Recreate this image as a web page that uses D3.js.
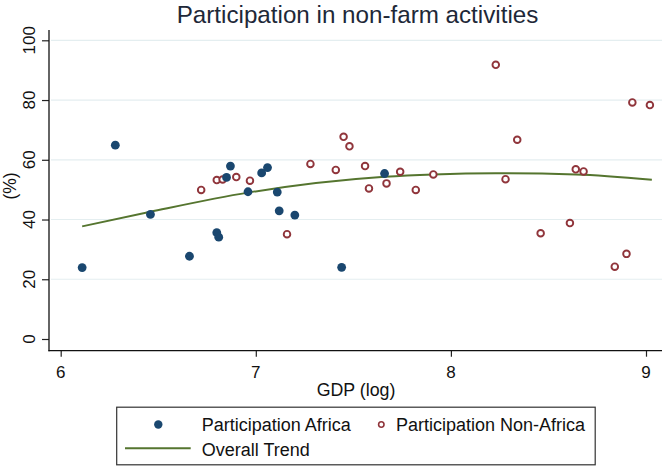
<!DOCTYPE html>
<html>
<head>
<meta charset="utf-8">
<style>
  body { margin: 0; background: #fff; }
  svg { display: block; font-family: "Liberation Sans", Arial, sans-serif; }
</style>
</head>
<body>
<svg width="662" height="466"></svg>
<script src="https://cdn.jsdelivr.net/npm/d3@7"></script>
<script>
// values
var africaGdp = [6.11, 6.28, 6.46, 6.66, 6.80, 6.81, 6.85, 6.87, 6.96, 7.03, 7.06, 7.11, 7.12, 7.20, 7.44, 7.66];
var africaPart = [23.9, 64.9, 41.7, 27.7, 35.6, 34.1, 54.1, 57.9, 49.3, 55.6, 57.4, 49.2, 42.9, 41.5, 24.0, 55.4];

var nonAfricaGdp = [6.72, 6.80, 6.83, 6.90, 6.97, 7.16, 7.28, 7.41, 7.45, 7.48, 7.56, 7.58, 7.67, 7.74,
  7.82, 7.91, 8.23, 8.28, 8.34, 8.46, 8.61, 8.64, 8.68, 8.84, 8.90, 8.93, 9.02];
var nonAfricaPart = [49.9, 53.2, 53.4, 54.2, 53.0, 35.1, 58.6, 56.6, 67.7, 64.5, 57.9, 50.4, 52.1, 56.0,
  49.9, 55.1, 91.8, 53.5, 66.7, 35.4, 38.8, 56.8, 56.1, 24.2, 28.5, 79.2, 78.3];

var trendGdp = [6.11, 6.46, 6.96, 7.66, 7.91, 8.23, 8.64, 9.03];
var trendPart = [37.7, 42.6, 49.0, 54.3, 55.1, 55.5, 55.1, 53.3];

var xTicks = [6, 7, 8, 9];
var yTicks = [0, 20, 40, 60, 80, 100];

var colAfrica = "#1a476f", colNon = "#90353b", colTrend = "#55752f";

var svg = d3.select("svg");
var x = d3.scaleLinear().domain([6, 9]).range([60.7, 646]);
var y = d3.scaleLinear().domain([0, 100]).range([339, 40.3]);

// gridlines (none at 0)
svg.append("g")
  .selectAll("line")
  .data(yTicks.filter(function(d) { return d > 0; }))
  .enter()
  .append("line")
  .attr("x1", 51).attr("x2", 662)
  .attr("y1", function(d) { return y(d); })
  .attr("y2", function(d) { return y(d); })
  .attr("stroke", "#e4eef0")
  .attr("stroke-width", 1.2);

// axes
var yAxis = svg.append("g")
  .attr("transform", "translate(49,0)")
  .call(d3.axisLeft(y).tickValues(yTicks).tickSize(7).tickSizeOuter(0).tickFormat(""));
yAxis.select(".domain").remove();
yAxis.selectAll("line").attr("stroke", "#222").attr("stroke-width", 1.2);

var xAxis = svg.append("g")
  .attr("transform", "translate(0,350.7)")
  .call(d3.axisBottom(x).tickValues(xTicks).tickSize(6).tickSizeOuter(0).tickFormat(""));
xAxis.select(".domain").remove();
xAxis.selectAll("line").attr("stroke", "#222").attr("stroke-width", 1.2);

svg.append("line").attr("x1", 49).attr("x2", 49).attr("y1", 30).attr("y2", 351.3)
  .attr("stroke", "#111").attr("stroke-width", 1.3);
svg.append("line").attr("x1", 48.4).attr("x2", 662).attr("y1", 350.7).attr("y2", 350.7)
  .attr("stroke", "#111").attr("stroke-width", 1.3);

// tick labels
svg.append("g")
  .selectAll("text")
  .data(yTicks)
  .enter()
  .append("text")
  .attr("transform", function(d) { return "translate(29.5," + y(d) + ") rotate(-90)"; })
  .attr("text-anchor", "middle")
  .attr("dy", "0.35em")
  .attr("font-size", 17)
  .attr("fill", "#111")
  .text(function(d) { return d; });

svg.append("g")
  .selectAll("text")
  .data(xTicks)
  .enter()
  .append("text")
  .attr("x", function(d) { return x(d); })
  .attr("y", 377.5)
  .attr("text-anchor", "middle")
  .attr("font-size", 17)
  .attr("fill", "#111")
  .text(function(d) { return d; });

// titles
svg.append("text")
  .attr("x", 357.5).attr("y", 23)
  .attr("text-anchor", "middle")
  .attr("font-size", 24.2)
  .attr("fill", "#1e2838")
  .text("Participation in non-farm activities");

svg.append("text")
  .attr("x", 356).attr("y", 395.5)
  .attr("text-anchor", "middle")
  .attr("font-size", 17.8)
  .attr("fill", "#111")
  .text("GDP (log)");

svg.append("text")
  .attr("transform", "translate(10,186) rotate(-90)")
  .attr("text-anchor", "middle")
  .attr("dy", "0.35em")
  .attr("font-size", 17.5)
  .attr("fill", "#111")
  .text("(%)");

// trend line
var line = d3.line()
  .x(function(d) { return x(d[0]); })
  .y(function(d) { return y(d[1]); })
  .curve(d3.curveMonotoneX);

svg.append("path")
  .datum(d3.zip(trendGdp, trendPart))
  .attr("d", line)
  .attr("fill", "none")
  .attr("stroke", colTrend)
  .attr("stroke-width", 2);

// points
svg.append("g")
  .selectAll("circle")
  .data(d3.zip(nonAfricaGdp, nonAfricaPart))
  .enter()
  .append("circle")
  .attr("cx", function(d) { return x(d[0]); })
  .attr("cy", function(d) { return y(d[1]); })
  .attr("r", 3.3)
  .attr("fill", "#fff")
  .attr("stroke", colNon)
  .attr("stroke-width", 1.9);

svg.append("g")
  .selectAll("circle")
  .data(d3.zip(africaGdp, africaPart))
  .enter()
  .append("circle")
  .attr("cx", function(d) { return x(d[0]); })
  .attr("cy", function(d) { return y(d[1]); })
  .attr("r", 4.4)
  .attr("fill", colAfrica);

// legend
var lg = svg.append("g");
lg.append("rect")
  .attr("x", 116.7).attr("y", 407.2)
  .attr("width", 478.5).attr("height", 57.6)
  .attr("fill", "#fff")
  .attr("stroke", "#333")
  .attr("stroke-width", 1.2);
lg.append("circle").attr("cx", 158.3).attr("cy", 424.5).attr("r", 4.2).attr("fill", colAfrica);
lg.append("circle").attr("cx", 381.3).attr("cy", 424.5).attr("r", 2.7)
  .attr("fill", "#fff").attr("stroke", colNon).attr("stroke-width", 1.6);
lg.append("line").attr("x1", 125).attr("x2", 190.7).attr("y1", 448.3).attr("y2", 448.3)
  .attr("stroke", colTrend).attr("stroke-width", 2);

var legendText = [
  ["Participation Africa", 201.7, 431],
  ["Participation Non-Africa", 396, 431],
  ["Overall Trend", 201.7, 455.7]
];
lg.selectAll("text")
  .data(legendText)
  .enter()
  .append("text")
  .attr("x", function(d) { return d[1]; })
  .attr("y", function(d) { return d[2]; })
  .attr("font-size", 18)
  .attr("fill", "#111")
  .text(function(d) { return d[0]; });
</script>
</body>
</html>
